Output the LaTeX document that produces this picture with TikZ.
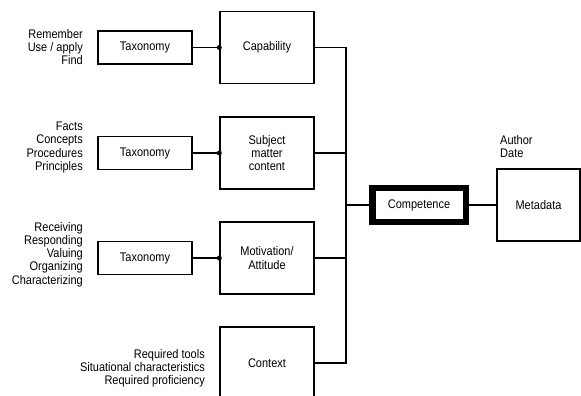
\documentclass[tikz,border=0pt]{standalone}
\usepackage{fontspec}
\setmainfont{Liberation Sans}[FakeStretch=0.88]
\begin{document}
\begin{tikzpicture}[x=1pt,y=-1pt,
  every node/.style={font=\fontsize{12.5}{13.2}\selectfont, inner sep=0pt},
  box/.style={draw, line width=1.4pt, minimum width=94pt, minimum height=72pt, align=center},
  taxbox/.style={draw, line width=1.4pt, minimum width=94pt, minimum height=33pt},
  items/.style={align=right, anchor=east},
  wire/.style={line width=1.9pt},
  thinwire/.style={line width=1.1pt},
  junction/.style={circle, fill, minimum size=5pt, inner sep=0pt}
]
\clip (0,0) rectangle (581,396);
\fill[white] (0,0) rectangle (581,396);

% the four aspects of a competence
\node[box] (cap)  at (267,47.5) {Capability};
\node[box] (subj) at (267,153)  {Subject\\matter\\content};
\node[box] (mot)  at (267,258)  {Motivation/\\Attitude};
\node[box] (ctx)  at (267,363)  {Context};

% taxonomies feeding the aspects
\node[taxbox] (tax1) at (145,47.5) {Taxonomy};
\node[taxbox] (tax2) at (145,153)  {Taxonomy};
\node[taxbox] (tax3) at (145,258)  {Taxonomy};

% taxonomy levels
\node[items] (lv1) at (83,47)    {Remember\\Use / apply\\Find};
\node[items] (lv2) at (83,147.5) {Facts\\Concepts\\Procedures\\Principles};
\node[items] (lv3) at (83,254.5) {Receiving\\Responding\\Valuing\\Organizing\\Characterizing};
\node[items] (lv4) at (205,368.5) {Required tools\\Situational characteristics\\Required proficiency};

% competence and its metadata
\node[draw, line width=6.5pt, minimum width=93.5pt, minimum height=34pt] (comp) at (419,205) {Competence};
\node[draw, line width=1.4pt, minimum width=83pt, minimum height=72pt] (meta) at (538.5,205) {Metadata};
\node[align=left, anchor=north west] (meta-items) at (500,135) {Author\\Date};

% taxonomy links with junction dots
\draw[thinwire] (tax1.east) -- (cap.west);
\draw[wire] (tax2.east) -- (subj.west);
\draw[wire] (tax3.east) -- (mot.west);
\node[junction] (j1) at (cap.west) {};
\node[junction] (j2) at (subj.west) {};
\node[junction] (j3) at (mot.west) {};

% collecting bus
\coordinate (bt) at (346,47.5);
\coordinate (bb) at (346,363);
\draw[wire] (cap.east) -- (bt) -- (bb) -- (ctx.east);
\draw[wire] (subj.east) -- (subj.east -| bt);
\draw[wire] (mot.east) -- (mot.east -| bt);
\draw[line width=1.4pt] (comp.west -| bt) -- (comp.west);
\draw[wire] (comp.east) -- (meta.west);
\end{tikzpicture}
\end{document}
